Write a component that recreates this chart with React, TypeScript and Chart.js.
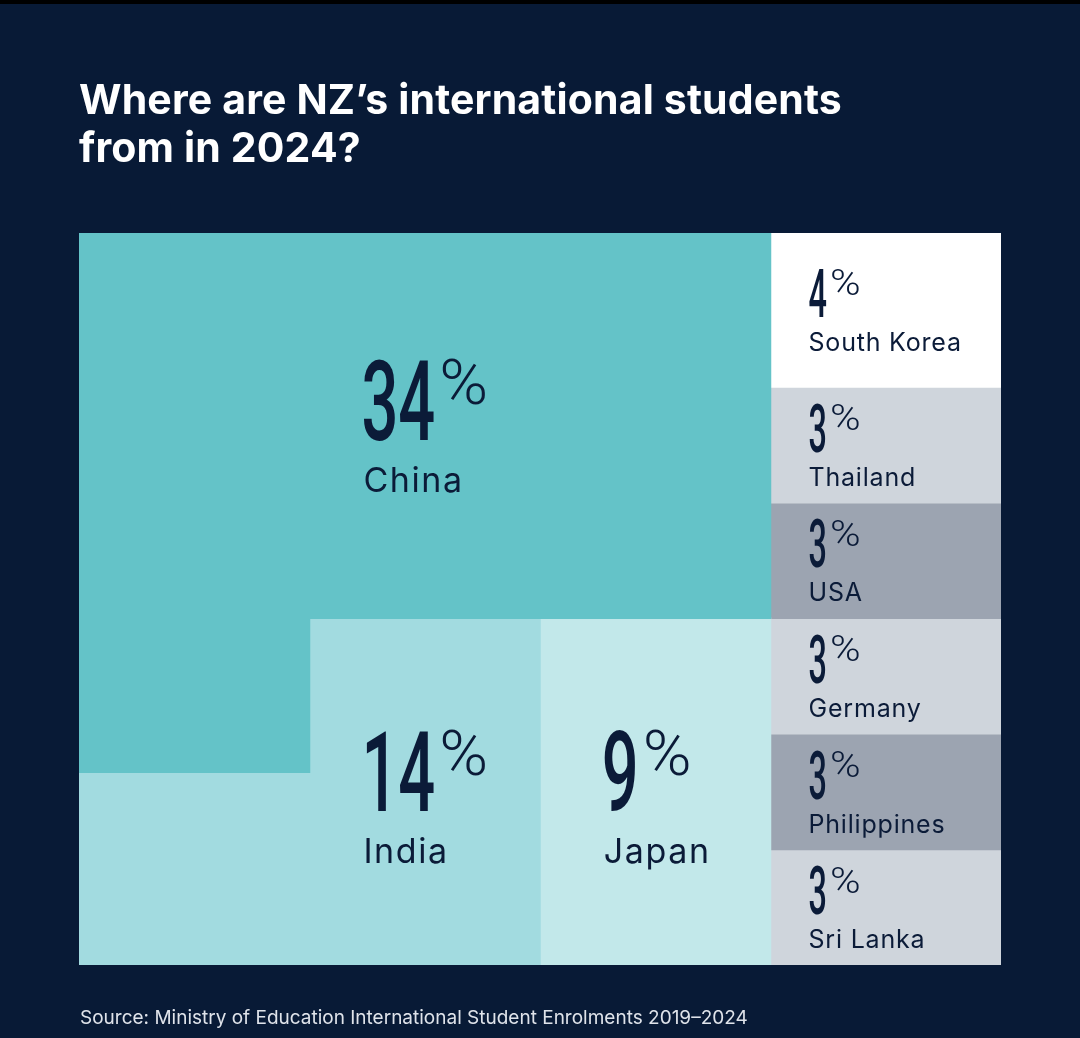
import React, { useEffect, useRef } from "react";
import { Chart, registerables } from "chart.js";

Chart.register(...registerables);

// ---- data ----
const countries = ["China", "India", "Japan", "South Korea", "Thailand", "USA", "Germany", "Philippines", "Sri Lanka"];
const shares = [34, 14, 9, 4, 3, 3, 3, 3, 3];
const columns = ["col1", "col2", "col3", "col4"];
const titleLines = ["Where are NZ\u2019s international students", "from in 2024?"];
const sourceText = "Source: Ministry of Education International Student Enrolments 2019\u20132024";

// ---- styles ----
const cellColors = ["#64c3c8", "#a2dbe0", "#c2e8ea", "#ffffff", "#cfd5dc", "#9ca4b1", "#cfd5dc", "#9ca4b1", "#cfd5dc"];
const BG = "#081a36";
const INK = "#0b1b38";

// ---- layout derived from shares ----
const [chinaShare, indiaShare, japanShare, ...smallShares] = shares;
const total = smallShares.reduce((a, b) => a + b, 0); // grid height (column width = 1 share unit)
const indiaBottom = indiaShare - japanShare;
const columnValues: (number | null)[][] = [
  [total - indiaBottom, total - japanShare, total - japanShare, null],
  [indiaBottom, japanShare, null, null],
  [null, null, japanShare, null],
  ...smallShares.map((v) => [null, null, null, v]),
];

type Region = { c0: number; c1: number; y0: number; y1: number; big: boolean; dy: number };
function labelRegions(): Region[] {
  const r: Region[] = [
    { c0: 0, c1: 2, y0: 0, y1: total - japanShare, big: true, dy: 0 },
    { c0: 1, c1: 1, y0: total - japanShare, y1: total, big: true, dy: 5 },
    { c0: 2, c1: 2, y0: total - japanShare, y1: total, big: true, dy: 5 },
  ];
  let acc = 0;
  smallShares.forEach((v) => {
    r.push({ c0: 3, c1: 3, y0: acc, y1: acc + v, big: false, dy: 0 });
    acc += v;
  });
  return r;
}

const BIG = { digitSize: 112, digitH: 80, digitScale: 0.58, pctSize: 63, pctScale: 1.05, pctGap: 4, nameSize: 34, nameSpacing: 1.6, nameOffset: 132 };
const SMALL = { digitSize: 67.5, digitH: 48, digitScale: 0.48, pctSize: 37, pctScale: 1.12, pctGap: 3, nameSize: 25, nameSpacing: 0.8, nameOffset: 82 };

const labelPlugin = {
  id: "labels",
  beforeDraw(chart: any) {
    const ctx = chart.ctx as CanvasRenderingContext2D;
    ctx.save();
    ctx.fillStyle = BG;
    ctx.fillRect(0, 0, chart.width, chart.height);
    ctx.fillStyle = "#000000";
    ctx.fillRect(0, 0, chart.width, 4);
    ctx.restore();
  },
  afterDraw(chart: any) {
    const ctx = chart.ctx as CanvasRenderingContext2D;
    const xs = chart.scales.x;
    const ys = chart.scales.y;
    const colW = (chart.chartArea.right - chart.chartArea.left) / columns.length;
    const colLeft = (i: number) => xs.getPixelForValue(i) - colW / 2;

    // title & source
    ctx.save();
    ctx.fillStyle = "#ffffff";
    ctx.font = "700 41px Inter";
    ctx.textBaseline = "alphabetic";
    ctx.textAlign = "left";
    (ctx as any).letterSpacing = "0.15px";
    ctx.fillText(titleLines[0], 79, 114);
    ctx.fillText(titleLines[1], 79, 162);
    (ctx as any).letterSpacing = "0px";
    ctx.fillStyle = "#dfe3ea";
    ctx.font = "400 19px Inter";
    ctx.fillText(sourceText, 80, 1024);
    ctx.restore();

    labelRegions().forEach((rg, i) => {
      const s = rg.big ? BIG : SMALL;
      const x0 = colLeft(rg.c0);
      const x1 = colLeft(rg.c1) + colW;
      const yTop = ys.getPixelForValue(rg.y0);
      const yBot = ys.getPixelForValue(rg.y1);
      const digits = String(shares[i]);
      const name = countries[i];

      ctx.save();
      ctx.textBaseline = "alphabetic";
      ctx.textAlign = "left";
      ctx.fillStyle = INK;
      (ctx as any).letterSpacing = "0px";
      ctx.font = `500 ${s.digitSize}px Roboto`;
      const dW = ctx.measureText(digits).width * s.digitScale;
      ctx.font = `300 ${s.pctSize}px Roboto`;
      const pW = ctx.measureText("%").width * s.pctScale;
      ctx.font = `400 ${s.nameSize}px Inter`;
      (ctx as any).letterSpacing = `${s.nameSpacing}px`;
      const nW = ctx.measureText(name).width;
      (ctx as any).letterSpacing = "0px";
      const blockW = Math.max(dW + s.pctGap + pW, nW);
      const left = rg.big ? (x0 + x1) / 2 - blockW / 2 : x0 + 38;
      const top = (yTop + yBot) / 2 - s.nameOffset / 2 + rg.dy;

      // digits
      ctx.save();
      ctx.font = `500 ${s.digitSize}px Roboto`;
      ctx.translate(left, top + s.digitH);
      ctx.scale(s.digitScale, 1);
      ctx.fillText(digits, 0, 0);
      ctx.restore();
      // percent
      ctx.save();
      ctx.font = `300 ${s.pctSize}px Roboto`;
      ctx.translate(left + dW + s.pctGap, top + s.pctSize * 0.711);
      ctx.scale(s.pctScale, 1);
      ctx.fillText("%", 0, 0);
      ctx.restore();
      // name
      ctx.font = `400 ${s.nameSize}px Inter`;
      (ctx as any).letterSpacing = `${s.nameSpacing}px`;
      ctx.fillText(name, left + (rg.big ? 2 : 0), top + s.nameOffset);
      ctx.restore();
    });
  },
};

export default function App() {
  const ref = useRef<HTMLCanvasElement | null>(null);
  useEffect(() => {
    document.body.style.margin = "0";
    document.body.style.background = BG;
    const canvas = ref.current!;
    const chart = new Chart(canvas, {
      type: "bar",
      data: {
        labels: columns,
        datasets: countries.map((c, i) => ({
          label: c,
          data: columnValues[i],
          backgroundColor: cellColors[i],
          borderWidth: 0,
          inflateAmount: 0.75,
          barPercentage: 1,
          categoryPercentage: 1,
        })),
      },
      options: {
        animation: false,
        responsive: false,
        devicePixelRatio: 1,
        layout: { padding: { left: 79, right: 79, top: 233, bottom: 73 } },
        plugins: { legend: { display: false }, tooltip: { enabled: false }, title: { display: false } },
        scales: {
          x: { type: "category", stacked: true, display: false, offset: true },
          y: { type: "linear", stacked: true, display: false, min: 0, max: total, reverse: true },
        },
      },
      plugins: [labelPlugin],
    });
    return () => chart.destroy();
  }, []);
  return (
    <div style={{ width: 1080, height: 1038 }}>
      <canvas ref={ref} width={1080} height={1038} style={{ display: "block" }} />
    </div>
  );
}
